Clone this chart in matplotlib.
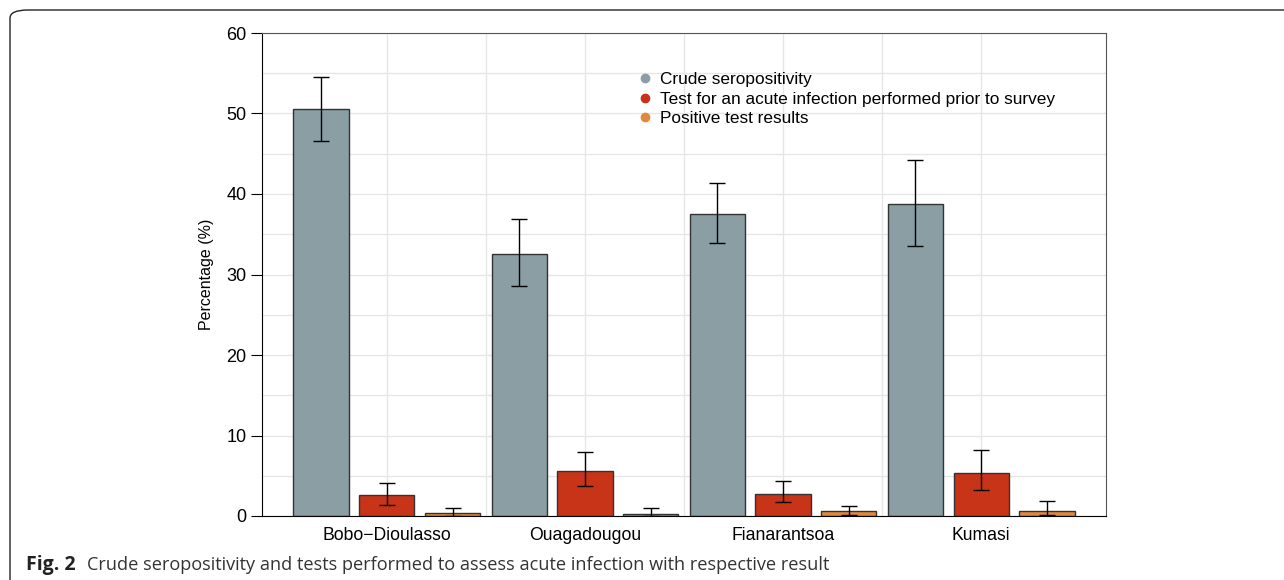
import numpy as np
import matplotlib
matplotlib.use('Agg')
from matplotlib import pyplot as plt
from matplotlib.patches import FancyBboxPatch
from matplotlib.lines import Line2D

plt.rcParams['font.family'] = ['Liberation Sans', 'DejaVu Sans']

cities = ['Bobo\u2212Dioulasso', 'Ouagadougou', 'Fianarantsoa', 'Kumasi']
series = ['Crude seropositivity',
          'Test for an acute infection performed prior to survey',
          'Positive test results']
colors = ['#8a9ea4', '#c83418', '#e0893c']

# estimates
crude = [50.6, 32.6, 37.5, 38.8]
crude_lo = [46.6, 28.6, 33.9, 33.6]
crude_hi = [54.5, 36.9, 41.4, 44.2]
tested = [2.6, 5.6, 2.7, 5.3]
tested_lo = [1.4, 3.7, 1.7, 3.2]
tested_hi = [4.1, 7.9, 4.4, 8.2]
positive = [0.35, 0.2, 0.6, 0.6]
positive_lo = [0.0, 0.0, 0.1, 0.1]
positive_hi = [1.0, 1.0, 1.25, 1.85]

values = [crude, tested, positive]
lows = [crude_lo, tested_lo, positive_lo]
highs = [crude_hi, tested_hi, positive_hi]

fig = plt.figure(figsize=(12.84, 5.80), dpi=100)

# rounded outer frame (clipped at the right and bottom like the source)
frame = FancyBboxPatch((10 / 1284, -0.2), 1.2, 1.2 - 10 / 580,
                       boxstyle='round,pad=0,rounding_size=0.014',
                       transform=fig.transFigure, fill=False,
                       edgecolor='#222222', linewidth=1.0, clip_on=False)
fig.patches.append(frame)

ax = fig.add_axes([262 / 1284, 1 - 516 / 580, (1106 - 262) / 1284, (516 - 33) / 580])

x = np.arange(len(cities))
width = 0.278
offsets = [-0.333, 0.0, 0.333]
for vals, lo, hi, off, col in zip(values, lows, highs, offsets, colors):
    vals = np.array(vals)
    yerr = [vals - np.array(lo), np.array(hi) - vals]
    ax.bar(x + off, vals, width, color=col, edgecolor='#333333', linewidth=1.0, zorder=2)
    ax.errorbar(x + off, vals, yerr=yerr, fmt='none', ecolor='black',
                elinewidth=1.0, capsize=5.8, capthick=1.0, zorder=3)

ax.set_xlim(-0.631, 3.631)
ax.set_ylim(0, 60)
ax.set_yticks(np.arange(0, 61, 10))
ax.set_yticks(np.arange(5, 60, 10), minor=True)
ax.set_xticks(x)
ax.set_xticklabels(cities, fontsize=12.7)
ax.set_xticks([0.5, 1.5, 2.5], minor=True)
ax.tick_params(axis='y', labelsize=13, length=8, width=0.8, pad=3)
ax.tick_params(axis='y', which='minor', length=0)
ax.tick_params(axis='x', which='both', length=0, pad=8)
ax.grid(True, which='both', color='#e6e6e6', linewidth=1.0, zorder=0)
ax.set_axisbelow(True)
ax.set_ylabel('Percentage (%)', fontsize=11.5, labelpad=9)
for side in ['top', 'right']:
    ax.spines[side].set_color('#555555')
for side in ['left', 'bottom']:
    ax.spines[side].set_color('black')

handles = [Line2D([], [], marker='o', linestyle='none', markersize=6,
                  markerfacecolor=c, markeredgecolor=c) for c in colors]
ax.legend(handles, series, loc='upper left', bbox_to_anchor=(0.4333, 0.933),
          frameon=False, fontsize=12.4, handletextpad=0.3, labelspacing=0.26,
          borderaxespad=0, handlelength=1.2)

fig.text(26 / 1284, 1 - 565 / 580, 'Fig. 2', fontsize=14, fontweight='bold',
         family=['Open Sans', 'DejaVu Sans'], va='center', color='#222222')
fig.text(87 / 1284, 1 - 565 / 580,
         'Crude seropositivity and tests performed to assess acute infection with respective result',
         fontsize=13.05, family=['Open Sans', 'DejaVu Sans'], va='center', color='#333333')

fig.savefig('out.png', dpi=100)
